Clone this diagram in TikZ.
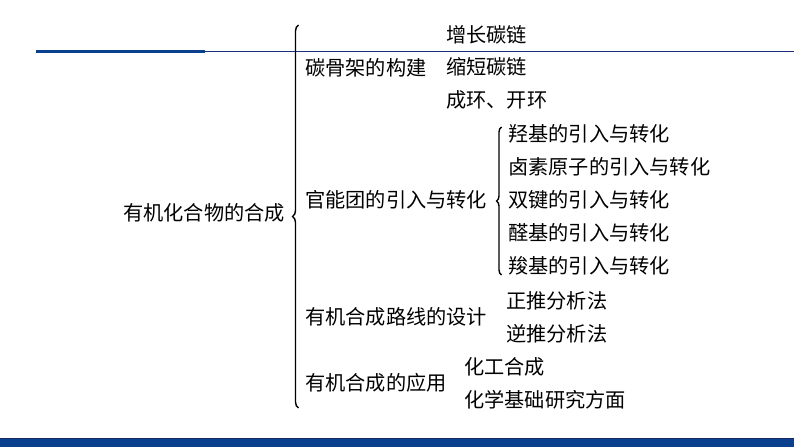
\documentclass[tikz,border=0pt]{standalone}
\usepackage{fontspec}
\newfontfamily\cjk{Noto Sans CJK SC}
\usetikzlibrary{positioning,decorations.pathreplacing}

\definecolor{navy}{HTML}{1B2F7C}
\definecolor{barblue}{HTML}{0B408E}

\begin{document}
\begin{tikzpicture}[
x=1pt, y=-1pt,
item/.style={
  anchor=west,
  inner sep=0pt,
  font=\cjk\fontsize{20.2}{24}\selectfont,
  text height=15.5pt,
  text depth=3pt
  },
bracket/.style={
  decorate,
  decoration={brace,amplitude=6pt},
  line width=1.4pt
  }
]
\useasboundingbox (0,0) rectangle (794,447);

% header rule and footer bar
\draw[navy, line width=0.9pt] (36,51.5) -- (794,51.5);
\draw[barblue, line width=3.2pt] (36,51.5) -- (205,51.5);
\fill[barblue] (0,438) rectangle (794,447);
\draw[navy!80!black, line width=0.8pt] (0,438.4) -- (794,438.4);

\node[item] (root) at (123,214) {有机化合物的合成};

% first level
\node[item] (skel) at (305,69) {碳骨架的构建};
\node[item] (func) at (305,201) {官能团的引入与转化};
\node[item] (route) at (305,318) {有机合成路线的设计};
\node[item] (app) at (305,384) {有机合成的应用};

% second level
\foreach \t [count=\i] in {增长碳链,缩短碳链,成环、开环}
  \node[item] (skel-\i) at (446,36+32.5*\i-32.5) {\t};
\foreach \t [count=\i] in {羟基的引入与转化,卤素原子的引入与转化,双键的引入与转化,醛基的引入与转化,羧基的引入与转化}
  \node[item] (func-\i) at (508,135+33*\i-33) {\t};
\node[item] (route-1) at (506,302) {正推分析法};
\node[item] (route-2) at (506,335) {逆推分析法};
\node[item] (app-1) at (464,368) {化工合成};
\node[item] (app-2) at (464,401) {化学基础研究方面};

% braces
\coordinate (rb) at (298.5,408);
\coordinate (rt) at (298.5,25);
\draw[bracket] (rb) -- (rt);
\coordinate (fb) at (501.5,275);
\coordinate (ft) at (501.5,127);
\draw[bracket, decoration={amplitude=5pt}] (fb) -- (ft);
\end{tikzpicture}
\end{document}
